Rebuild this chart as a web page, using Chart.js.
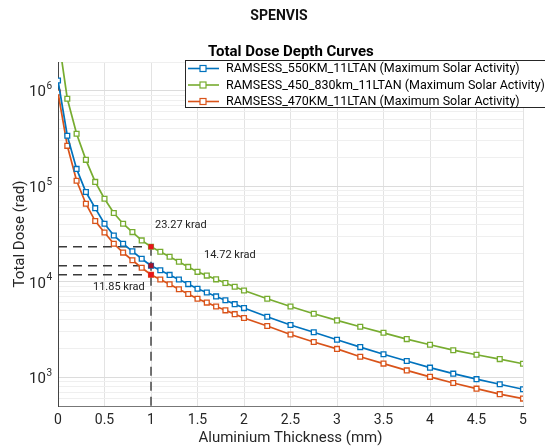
<!DOCTYPE html>
<html>
<head>
<meta charset="utf-8">
<script src="https://cdn.jsdelivr.net/npm/chart.js@4.4.1/dist/chart.umd.min.js"></script>
<style>
  html, body { margin: 0; padding: 0; background: #fff; }
  #wrap { width: 545px; height: 448px; }
</style>
</head>
<body>
<div id="wrap"><canvas id="dose" width="545" height="448"></canvas></div>
<script>
// aluminium thickness (mm): 0.1 steps up to 2 mm, then 0.25 steps
var thickness = [0, 0.1, 0.2, 0.3, 0.4, 0.5, 0.6, 0.7, 0.8, 0.9, 1.0,
    1.1, 1.2, 1.3, 1.4, 1.5, 1.6, 1.7, 1.8, 1.9, 2.0,
    2.25, 2.5, 2.75, 3.0, 3.25, 3.5, 3.75, 4.0, 4.25, 4.5, 4.75, 5.0];

// total dose (rad)
var dose550 = [1.28e6, 3.38e5, 1.52e5, 8.7e4, 5.9e4, 4.05e4, 3.05e4, 2.5e4, 2.08e4, 1.74e4, 14720,
    13200, 11800, 10550, 9450, 8450, 7720, 7020, 6400, 5830, 5300,
    4300, 3520, 2960, 2470, 2070, 1740, 1480, 1260, 1090, 955, 845, 748];
var dose450_830 = [3.9e6, 8.25e5, 3.55e5, 1.89e5, 1.11e5, 7.4e4, 5.24e4, 4.05e4, 3.31e4, 2.71e4, 23270,
    20600, 18300, 16200, 14300, 12700, 11600, 10600, 9700, 8850, 8100,
    6640, 5500, 4620, 3940, 3380, 2920, 2510, 2190, 1920, 1720, 1550, 1385];
var dose470 = [9.6e5, 2.65e5, 1.14e5, 6.56e4, 4.32e4, 3.28e4, 2.5e4, 2.02e4, 1.68e4, 1.4e4, 11850,
    10550, 9400, 8350, 7450, 6640, 6050, 5510, 5020, 4580, 4170,
    3440, 2800, 2340, 1980, 1640, 1390, 1180, 1010, 870, 760, 665, 598];

var seriesNames = ['RAMSESS_550KM_11LTAN (Maximum Solar Activity)',
    'RAMSESS_450_830km_11LTAN (Maximum Solar Activity)',
    'RAMSESS_470KM_11LTAN (Maximum Solar Activity)'];
var seriesColours = ['#0072BD', '#77AC30', '#D95319'];

// highlighted doses at 1 mm (green, blue, orange)
var markThickness = 1;
var markDoses = [23270, 14720, 11850];
var markLabels = ['23.27 krad', '14.72 krad', '11.85 krad'];
var markColours = ['#e8141c', '#a3132b', '#e8141c'];

var yMin = 500, yMax = 2e6;
var xMin = 0, xMax = 5;

function toPoints(ys) {
    return thickness.map(function (x, i) { return {x: x, y: ys[i]}; });
}

function curve(i, ys) {
    return {
        label: seriesNames[i],
        data: toPoints(ys),
        borderColor: seriesColours[i],
        backgroundColor: '#fff',
        borderWidth: 1.7,
        pointStyle: 'rect',
        pointRadius: 3.4,
        pointBorderWidth: 1.3,
        pointBackgroundColor: '#fff',
        pointBorderColor: seriesColours[i],
        tension: 0,
        order: 2
    };
}

function dashed(pts) {
    return {
        data: pts,
        borderColor: '#3a3a3a',
        borderWidth: 1.4,
        borderDash: [9, 6],
        pointRadius: 0,
        order: 5
    };
}

var datasets = [curve(0, dose550), curve(1, dose450_830), curve(2, dose470)];
markDoses.forEach(function (d) {
    datasets.push(dashed([{x: xMin, y: d}, {x: markThickness, y: d}]));
});
datasets.push(dashed([{x: markThickness, y: Math.max.apply(null, markDoses)}, {x: markThickness, y: yMin}]));
datasets.push({
    data: markDoses.map(function (d) { return {x: markThickness, y: d}; }),
    showLine: false,
    pointStyle: 'rect',
    pointRadius: 3.6,
    pointBorderWidth: 0,
    pointBackgroundColor: markColours,
    order: 0
});

function isDecade(v) {
    var e = Math.log10(v);
    return Math.abs(e - Math.round(e)) < 1e-9;
}

var decor = {
    id: 'decor',
    afterDraw: function (chart) {
        var ctx = chart.ctx;
        var xs = chart.scales.x, ys = chart.scales.y;
        ctx.save();

        // main title
        ctx.fillStyle = '#111';
        ctx.font = 'bold 14px Roboto';
        ctx.textAlign = 'center';
        ctx.textBaseline = 'middle';
        ctx.fillText('SPENVIS', 279, 16);

        // y tick labels as 10 with a raised exponent
        ctx.fillStyle = '#262626';
        ctx.textAlign = 'left';
        ys.ticks.forEach(function (t) {
            if (!isDecade(t.value)) return;
            var py = ys.getPixelForValue(t.value);
            var ex = String(Math.round(Math.log10(t.value)));
            ctx.font = '10px Roboto';
            var w2 = ctx.measureText(ex).width;
            ctx.font = '15px Roboto';
            var w1 = ctx.measureText('10').width;
            var right = ys.right - 6;
            ctx.fillText('10', right - w2 - w1 - 0.5, py + 2);
            ctx.font = '10px Roboto';
            ctx.fillText(ex, right - w2, py - 4);
        });

        // value labels next to the red points
        var offsets = [[4, -21], [53, -10], [-58, 13]];
        ctx.font = '11px Roboto';
        ctx.fillStyle = '#222';
        markDoses.forEach(function (d, i) {
            var px = xs.getPixelForValue(markThickness), py = ys.getPixelForValue(d);
            ctx.fillText(markLabels[i], px + offsets[i][0], py + offsets[i][1]);
        });

        // legend box
        ctx.fillStyle = '#fff';
        ctx.fillRect(185.5, 60.5, 400, 47);
        ctx.strokeStyle = '#262626';
        ctx.lineWidth = 1;
        ctx.strokeRect(185.5, 60.5, 400, 47);
        ctx.fillStyle = '#000';
        ctx.font = 'bold 15px Roboto';
        ctx.fillText('Total Dose Depth Curves', 208, 52);

        var rowY = [68.5, 85, 101.5];
        ctx.font = '12.5px Roboto';
        for (var i = 0; i < 3; i++) {
            var y = rowY[i];
            ctx.strokeStyle = seriesColours[i];
            ctx.lineWidth = 1.6;
            ctx.beginPath();
            ctx.moveTo(188, y);
            ctx.lineTo(219, y);
            ctx.stroke();
            ctx.fillStyle = '#fff';
            ctx.fillRect(200, y - 3, 6, 6);
            ctx.lineWidth = 1.2;
            ctx.strokeRect(200, y - 3, 6, 6);
            ctx.fillStyle = '#000';
            ctx.fillText(seriesNames[i], 226, y + 0.5);
        }
        ctx.restore();
    }
};

new Chart(document.getElementById('dose'), {
    type: 'line',
    data: {datasets: datasets},
    plugins: [decor],
    options: {
        responsive: false,
        animation: false,
        layout: {padding: {top: 62, right: 22, left: 0, bottom: 0}},
        plugins: {
            legend: {display: false},
            tooltip: {enabled: false},
            title: {display: false}
        },
        scales: {
            x: {
                type: 'linear',
                min: xMin,
                max: xMax,
                afterFit: function (s) { s.height = 42; },
                ticks: {
                    stepSize: 0.5,
                    padding: 6,
                    color: '#262626',
                    font: {family: 'Roboto', size: 14},
                    maxRotation: 0,
                    callback: function (v) { return String(Math.round(v * 10) / 10); }
                },
                grid: {color: '#e3e3e3', drawTicks: false},
                border: {color: '#777', width: 1},
                title: {
                    display: true,
                    text: 'Aluminium Thickness (mm)',
                    color: '#262626',
                    font: {family: 'Roboto', size: 15},
                    padding: {top: 0, bottom: 1}
                }
            },
            y: {
                type: 'logarithmic',
                min: yMin,
                max: yMax,
                afterFit: function (s) { s.width = 58; },
                afterBuildTicks: function (s) {
                    var t = [];
                    for (var e = 2; e <= 6; e++) {
                        for (var m = 1; m <= 9; m++) {
                            var v = m * Math.pow(10, e);
                            if (v >= yMin && v <= yMax) t.push({value: v});
                        }
                    }
                    s.ticks = t;
                },
                ticks: {
                    autoSkip: false,
                    padding: 6,
                    color: '#262626',
                    font: {family: 'Roboto', size: 14},
                    callback: function () { return ''; }
                },
                grid: {
                    drawTicks: false,
                    color: function (c) {
                        return c.tick && isDecade(c.tick.value) ? '#dcdcdc' : '#efefef';
                    }
                },
                border: {color: '#444', width: 1},
                title: {
                    display: true,
                    text: 'Total Dose (rad)',
                    color: '#262626',
                    font: {family: 'Roboto', size: 15},
                    padding: {top: 11, bottom: 0}
                }
            }
        }
    }
});
</script>
</body>
</html>
